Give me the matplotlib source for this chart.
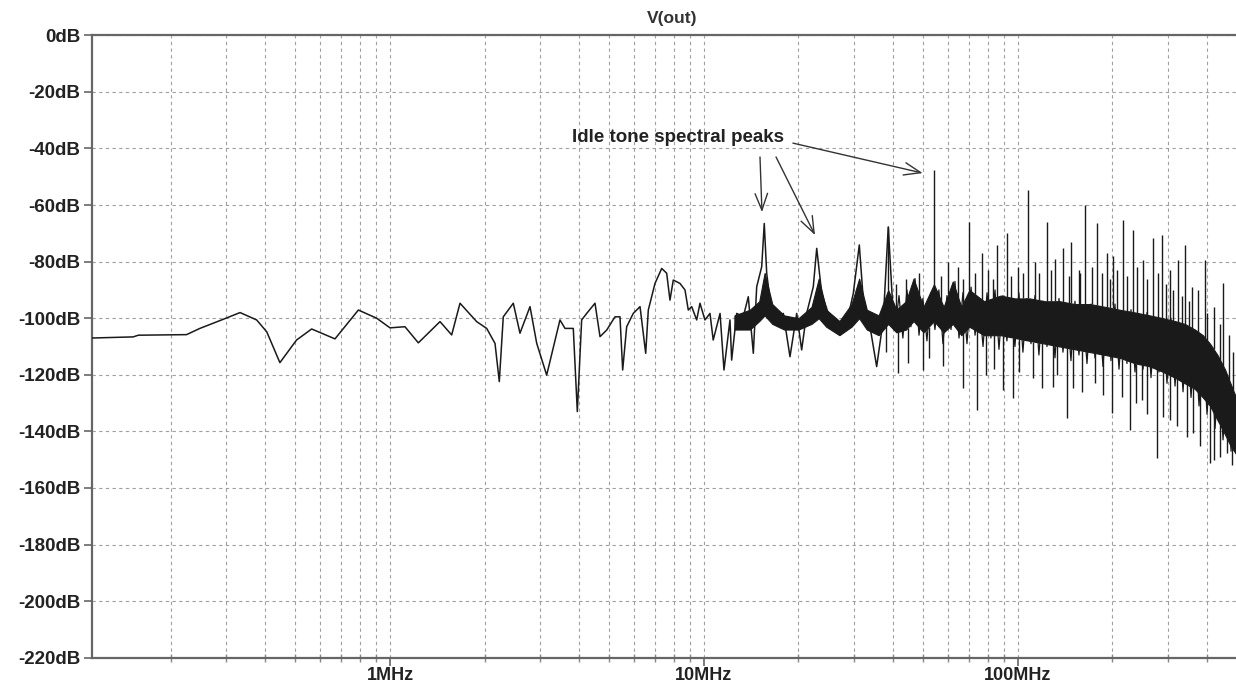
import matplotlib.pyplot as plt
from matplotlib.ticker import FixedLocator, FuncFormatter, NullFormatter
import numpy as np

# --- Data (frequency in MHz, level in dB) ---
# low/mid band trace, read point by point
trace_mhz = [0.112, 0.152, 0.158, 0.225, 0.248, 0.294, 0.333, 0.376, 0.405, 0.446,
             0.504, 0.563, 0.668, 0.793, 0.907, 1.0, 1.116, 1.231, 1.443, 1.572,
             1.671, 1.888, 2.032, 2.160, 2.229, 2.295, 2.470, 2.594, 2.792, 2.933,
             3.155, 3.478, 3.609, 3.835, 3.950, 4.078, 4.231, 4.497, 4.665, 4.899,
             5.206, 5.401, 5.509, 5.673, 5.953, 6.256, 6.522, 6.648, 6.982, 7.334,
             7.607, 7.793, 7.984, 8.386, 8.700, 8.913, 9.138, 9.479, 9.711, 10.07,
             10.45, 10.70, 11.25, 11.58, 12.10, 12.25, 12.71, 13.34, 13.84, 14.36,
             14.72, 15.27, 15.56, 15.84, 16.23, 17.04, 17.89, 18.79, 19.74, 20.47,
             21.23, 22.29, 22.86, 23.71, 24.88, 25.81, 27.11, 28.48, 29.89, 31.24,
             32.17, 33.79, 35.48, 37.24, 38.63, 40.09]
trace_db = [-107.0, -106.6, -106.0, -105.8, -103.6, -100.4, -98.0, -100.6, -104.8, -115.7,
            -107.7, -103.8, -107.3, -97.1, -100.0, -103.4, -103.0, -108.7, -101.2, -105.9,
            -94.7, -101.2, -103.6, -108.9, -122.4, -99.5, -94.7, -105.3, -95.9, -108.9,
            -120.1, -100.6, -103.6, -103.6, -133.0, -100.6, -98.3, -94.7, -106.5, -104.2,
            -99.5, -99.5, -118.3, -103.0, -98.3, -95.9, -112.4, -97.1, -87.7, -82.4,
            -84.1, -93.6, -86.5, -87.7, -90.0, -97.1, -95.9, -100.6, -94.7, -100.6,
            -98.3, -107.7, -98.3, -118.3, -100.6, -114.8, -98.3, -99.5, -92.4, -112.4,
            -88.9, -81.8, -66.5, -84.1, -93.6, -99.5, -98.3, -113.6, -98.3, -111.2,
            -98.3, -88.9, -75.3, -91.2, -98.3, -99.5, -105.3, -101.8, -91.2, -74.1,
            -93.6, -103.0, -117.1, -100.6, -67.7, -99.5]

# high band trace above 40 MHz (local maxima/minima of the noise)
hf_mhz = [40.6, 41.8, 43.0, 44.3, 45.6, 47.0, 48.4, 49.8, 51.3, 52.8,
          54.4, 56.0, 57.7, 59.4, 61.2, 63.0, 64.9, 66.8, 68.8, 70.9,
          73.0, 75.1, 77.4, 79.7, 82.0, 84.5, 87.0, 89.6, 92.2, 95.0,
          97.8, 100.7, 103.7, 106.8, 110.0, 113.3, 116.6, 120.1, 123.7, 127.4,
          131.2, 135.1, 139.1, 143.2, 147.5, 151.9, 156.4, 161.1, 165.9, 170.8,
          175.9, 181.1, 186.5, 192.1, 197.8, 203.7, 209.8, 216.0, 222.4, 229.1,
          235.9, 242.9, 250.2, 257.6, 265.3, 273.2, 281.3, 289.7, 298.3, 307.2,
          316.4, 325.8, 335.5, 345.5, 355.8, 366.4, 377.3, 388.5, 400.1, 412.0,
          424.3, 436.9, 449.9, 463.3, 477.1, 491.3]
hf_db = [-104, -92, -107, -90, -103, -86, -106, -93, -108, -91,
         -104, -90, -109, -92, -104, -87, -107, -91, -109, -89,
         -106, -93, -110, -91, -107, -90, -111, -92, -108, -94,
         -110, -91, -112, -93, -109, -92, -113, -94, -110, -95,
         -114, -93, -112, -96, -115, -94, -113, -97, -116, -95,
         -114, -96, -117, -97, -115, -95, -118, -98, -116, -97,
         -119, -99, -118, -98, -121, -100, -119, -101, -123, -100,
         -124, -103, -126, -104, -128, -107, -131, -108, -134, -112,
         -139, -116, -143, -121, -147, -129]

# dense noise floor above ~12 MHz: upper and lower edge of the band
band_mhz = [12.5, 14.0, 15.0, 15.6, 16.5, 18.0, 20.0, 22.0, 23.2, 24.5,
            27.0, 29.5, 31.2, 33.0, 36.0, 38.6, 41.0, 44.0, 46.5, 50.0,
            54.0, 58.0, 62.0, 66.0, 70.0, 78.0, 88.0, 98.0, 109.0, 122.0,
            136.0, 152.0, 170.0, 190.0, 211.0, 237.0, 263.0, 290.0, 316.0, 340.0,
            366.0, 388.0, 409.0, 432.0, 456.0, 475.0, 495.0]
band_hi = [-99, -97, -94, -84, -95, -99, -100, -96, -86, -97,
           -101, -95, -86, -97, -99, -90, -97, -94, -86, -96,
           -88, -96, -87, -96, -90, -94, -92, -93, -93, -94,
           -94, -95, -95, -96, -97, -98, -99, -100, -101, -102,
           -104, -106, -109, -113, -118, -123, -128]
band_lo = [-104, -104, -101, -99, -102, -104, -104, -102, -100, -103,
           -106, -103, -100, -104, -106, -102, -105, -104, -101, -105,
           -101, -105, -102, -106, -103, -106, -106, -107, -108, -109,
           -110, -111, -112, -113, -114, -116, -117, -119, -121, -123,
           -125, -128, -131, -136, -141, -145, -148]

# narrow spectral lines sticking out of the floor
spike_up_mhz = [38.6, 54.2, 70.0, 76.9, 85.5, 92.5, 107.8, 123.4, 131.2, 138.8,
                147.2, 156.1, 163.2, 178.1, 191.6, 201.2, 216.5, 232.9, 250.6, 269.7,
                288.1, 304.9, 323.9, 340.2, 357.5, 393.9, 450.6,
                40.9, 44.0, 48.5, 57.0, 60.0, 64.5, 66.7, 73.0, 80.0, 83.0,
                95.0, 100.0, 104.0, 113.0, 117.0, 127.0, 145.0, 158.0, 172.0, 185.0,
                196.0, 206.0, 222.0, 240.0, 258.0, 280.0, 296.0, 312.0, 332.0, 350.0,
                375.0, 400.0, 420.0, 440.0, 470.0, 485.0]
spike_up_db = [-67.7, -47.5, -66.0, -77.0, -74.0, -70.0, -54.7, -66.0, -79.0, -75.0,
               -73.0, -83.0, -60.0, -66.5, -77.0, -78.0, -65.3, -68.8, -79.4, -71.8,
               -70.6, -83.0, -79.4, -74.0, -89.0, -79.4, -87.7,
               -88.0, -86.0, -84.0, -85.0, -80.0, -82.0, -86.0, -84.0, -83.0, -86.0,
               -85.0, -82.0, -84.0, -80.0, -84.0, -83.0, -85.0, -84.0, -82.0, -84.0,
               -86.0, -83.0, -85.0, -82.0, -86.0, -84.0, -88.0, -90.0, -92.0, -94.0,
               -90.0, -98.0, -96.0, -102.0, -106.0, -112.0]

spike_dn_mhz = [41.6, 49.9, 66.9, 73.9, 89.8, 96.2, 119.5, 129.0, 142.9, 150.0,
                175.9, 198.8, 227.4, 247.7, 276.5, 304.9, 361.8, 408.9, 461.9,
                38.0, 44.5, 52.0, 57.5, 79.0, 84.0, 101.0, 112.0, 133.0, 160.0,
                186.0, 215.0, 238.0, 258.0, 290.0, 320.0, 345.0, 380.0, 420.0, 440.0, 480.0]
spike_dn_db = [-119.5, -118.3, -124.8, -132.5, -125.4, -128.3, -124.8, -124.2, -135.4, -124.8,
               -123.0, -133.6, -139.5, -128.9, -149.5, -136.0, -140.7, -151.3, -147.8,
               -112.0, -116.0, -114.0, -117.0, -120.0, -118.0, -119.0, -121.0, -120.0, -126.0,
               -127.0, -128.0, -130.0, -134.0, -135.0, -138.0, -142.0, -145.0, -150.0, -149.0, -152.0]

# annotation arrows: (tail MHz, tail dB) -> (tip MHz, tip dB)
arrow_tails = [(15.08, -43.0), (16.96, -43.0), (19.20, -38.1)]
arrow_tips = [(15.30, -62.5), (22.57, -70.6), (49.72, -48.7)]

FONT = 'Liberation Sans'
TRACE_COLOR = '#1a1a1a'
GRID_COLOR = '#a0a0a0'
AXIS_COLOR = '#666666'
# -----------------

fig = plt.figure(figsize=(12.36, 6.9), dpi=100)
ax = fig.add_axes([0.0742, 0.0468, 0.9258, 0.902])

ax.set_xscale('log')
ax.set_xlim(0.1122, 494.8)
ax.set_ylim(-220, 0)

# floor band, then the lines on top of it
log_band = np.log10(band_mhz)
ax.fill_between(band_mhz, band_lo, band_hi, color=TRACE_COLOR, linewidth=0.8,
                edgecolor=TRACE_COLOR, zorder=3)
base_hi = np.interp(np.log10(spike_up_mhz), log_band, band_hi)
base_lo = np.interp(np.log10(spike_dn_mhz), log_band, band_lo)
ax.vlines(spike_up_mhz, base_hi, spike_up_db, color=TRACE_COLOR, linewidth=1.0, zorder=3)
ax.vlines(spike_dn_mhz, spike_dn_db, base_lo, color=TRACE_COLOR, linewidth=1.0, zorder=3)
ax.plot(hf_mhz, hf_db, color=TRACE_COLOR, linewidth=0.9, zorder=4)
ax.plot(trace_mhz, trace_db, color=TRACE_COLOR, linewidth=1.1, zorder=4)

# grid on every decade subdivision
ax.grid(True, which='both', axis='x', color=GRID_COLOR, linestyle=(0, (3, 3)), linewidth=0.8)
ax.grid(True, which='major', axis='y', color=GRID_COLOR, linestyle=(0, (3, 3)), linewidth=0.8)
ax.set_axisbelow(True)

ax.xaxis.set_major_locator(FixedLocator([1, 10, 100]))
minor = [m * d for d in (0.1, 1, 10, 100) for m in range(2, 10)]
ax.xaxis.set_minor_locator(FixedLocator(minor))
ax.xaxis.set_major_formatter(FuncFormatter(lambda v, p: f'{v:g}MHz'))
ax.xaxis.set_minor_formatter(NullFormatter())

ax.yaxis.set_major_locator(FixedLocator(np.arange(-220, 1, 20)))
ax.yaxis.set_major_formatter(FuncFormatter(lambda v, p: f'{int(round(v))}dB'))

for side in ('left', 'bottom', 'top'):
    ax.spines[side].set_color(AXIS_COLOR)
    ax.spines[side].set_linewidth(1.6)
ax.spines['right'].set_visible(False)

ax.tick_params(axis='y', which='major', direction='out', length=6, width=1.2,
               color=AXIS_COLOR, pad=2, labelsize=13.5, labelcolor='#222222')
ax.tick_params(axis='x', which='major', direction='out', length=6, width=1.2,
               color=AXIS_COLOR, pad=1, labelsize=13, labelcolor='#222222')
ax.tick_params(axis='x', which='minor', direction='inout', length=6, width=1.0,
               color='#888888')
for lbl in ax.get_xticklabels() + ax.get_yticklabels():
    lbl.set_fontfamily(FONT)
    lbl.set_fontweight('bold')

fig.text(672 / 1236, 1 - 18 / 690, 'V(out)', ha='center', va='center',
         fontsize=12.5, fontweight='bold', family=FONT, color='#333333')

ax.text(8.27, -36.0, 'Idle tone spectral peaks', ha='center', va='center',
        fontsize=13.5, fontweight='bold', family=FONT, color='#222222', zorder=5)
for tail, tip in zip(arrow_tails, arrow_tips):
    ax.annotate('', xy=tip, xytext=tail,
                arrowprops=dict(arrowstyle='->,head_length=1.2,head_width=0.45',
                                color='#333333', linewidth=1.0,
                                shrinkA=0, shrinkB=0, mutation_scale=10),
                zorder=5)

plt.savefig('out.png', dpi=100)
